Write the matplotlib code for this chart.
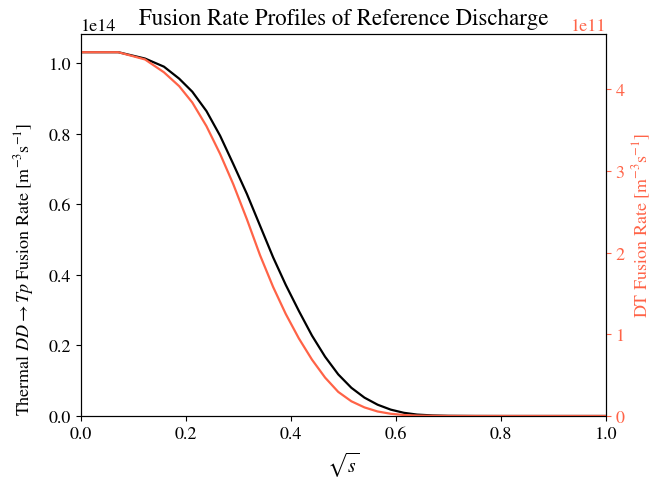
import matplotlib
matplotlib.use("Agg")
import matplotlib.pyplot as plt

plt.rcParams["font.family"] = "STIXGeneral"
plt.rcParams["mathtext.fontset"] = "stix"

# sqrt(s) grid and profiles
rho = [0.0, 0.071, 0.122, 0.158, 0.187, 0.212, 0.239, 0.265, 0.29, 0.316,
       0.341, 0.366, 0.39, 0.415, 0.44, 0.465, 0.49, 0.515, 0.54, 0.565,
       0.59, 0.615, 0.64, 0.67, 0.70, 0.75, 0.8, 0.9, 1.0]
dd_rate = [1.032, 1.032, 1.014, 0.991, 0.957, 0.920, 0.865, 0.795, 0.715, 0.630,
           0.540, 0.450, 0.372, 0.298, 0.228, 0.168, 0.118, 0.080, 0.052, 0.032,
           0.018, 0.009, 0.004, 0.0015, 0.0005, 0.0001, 0.0, 0.0, 0.0]  # x1e14
dt_rate = [4.456, 4.456, 4.367, 4.21, 4.04, 3.84, 3.55, 3.21, 2.84, 2.41,
           1.97, 1.58, 1.25, 0.95, 0.69, 0.47, 0.295, 0.18, 0.105, 0.055,
           0.027, 0.012, 0.005, 0.002, 0.0007, 0.0001, 0.0, 0.0, 0.0]  # x1e11

dd_vals = [v * 1e14 for v in dd_rate]
dt_vals = [v * 1e11 for v in dt_rate]

red = "tomato"

fig = plt.figure(figsize=(6.71, 4.81), dpi=100)
ax = fig.add_axes([0.1207, 0.1331, 0.7824, 0.7941])
ax.plot(rho, dd_vals, color="black", lw=1.6)
ax.set_xlim(0, 1)
ax.set_ylim(bottom=0)
ax.set_xlabel(r"$\sqrt{s}$", fontsize=14, labelpad=6)
ax.set_ylabel(r"Thermal $DD \rightarrow Tp$ Fusion Rate [m$^{-3}$s$^{-1}$]", fontsize=13)
ax.yaxis.set_label_coords(-0.085, 0.387)
ax.set_title("Fusion Rate Profiles of Reference Discharge", fontsize=16.5, pad=7)
ax.tick_params(labelsize=13)
ax.yaxis.get_offset_text().set_fontsize(13)

ax2 = ax.twinx()
ax2.plot(rho, dt_vals, color=red, lw=1.6)
ax2.set_ylim(bottom=0)
ax2.set_ylabel(r"DT Fusion Rate [m$^{-3}$s$^{-1}$]", color=red, fontsize=13)
ax2.tick_params(axis="y", colors=red, labelsize=13)
ax2.yaxis.get_offset_text().set_fontsize(13)
ax2.yaxis.get_offset_text().set_color(red)

fig.savefig("out.png", dpi=100)
